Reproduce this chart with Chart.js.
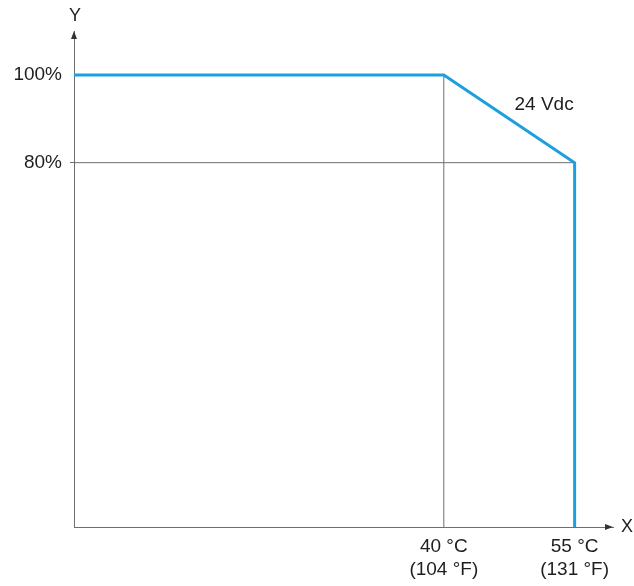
<!DOCTYPE html>
<html>
<head>
<meta charset="utf-8">
<script src="https://cdn.jsdelivr.net/npm/chart.js@4.4.0/dist/chart.umd.min.js"></script>
<style>
  html, body { margin: 0; padding: 0; background: #fff; }
  #wrap { width: 634px; height: 586px; }
</style>
</head>
<body>
<div id="wrap"><canvas id="derating"></canvas></div>
<script>
/* ===== DATA ===== */
const xTickValues = [40, 55];
const xTickLabels = [['40 °C', '(104 °F)'], ['55 °C', '(131 °F)']];
const yTickValues = [80, 100];
const yTickLabels = ['80%', '100%'];
const curveX = [40, 55];          // knee points of the 24 Vdc curve
const curveY = [100, 80];
const seriesLabel = '24 Vdc';

/* ===== SCALE LIMITS (schematic axes) ===== */
const X_MIN = -2.4, X_MAX = 59.4;
const Y_MIN = -3, Y_MAX = 110;

const blueLine = [
    { x: X_MIN, y: curveY[0] },
    { x: curveX[0], y: curveY[0] },
    { x: curveX[1], y: curveY[1] },
    { x: curveX[1], y: Y_MIN }
];
const refH = [{ x: X_MIN, y: curveY[1] }, { x: curveX[1], y: curveY[1] }];
const refV = [{ x: curveX[0], y: Y_MIN }, { x: curveX[0], y: curveY[0] }];

const FONT = '"Liberation Sans", Arial, sans-serif';
const AXIS = '#6e6e6e';
const TEXT = '#1e1e1e';

/* ===== AXIS ARROWS + LABELS ===== */
const decorations = {
    id: 'decorations',
    afterDraw(chart) {
        const ctx = chart.ctx;
        const a = chart.chartArea;
        const xs = chart.scales.x, ys = chart.scales.y;
        ctx.save();
        ctx.fillStyle = '#333';
        // arrow on Y axis
        ctx.beginPath();
        ctx.moveTo(a.left, a.top);
        ctx.lineTo(a.left - 3, a.top + 8);
        ctx.lineTo(a.left + 3, a.top + 8);
        ctx.closePath();
        ctx.fill();
        // arrow on X axis
        ctx.beginPath();
        ctx.moveTo(a.right, a.bottom);
        ctx.lineTo(a.right - 8, a.bottom - 3);
        ctx.lineTo(a.right - 8, a.bottom + 3);
        ctx.closePath();
        ctx.fill();

        ctx.fillStyle = TEXT;
        ctx.font = '18px ' + FONT;
        ctx.textAlign = 'center';
        ctx.textBaseline = 'middle';
        ctx.fillText('Y', a.left + 1, a.top - 15);
        ctx.fillText('X', a.right + 14, a.bottom);

        ctx.font = '19px ' + FONT;
        ctx.fillText(seriesLabel, xs.getPixelForValue(51.5), ys.getPixelForValue(93.2));
        ctx.restore();
    }
};

/* ===== CHART ===== */
document.addEventListener('DOMContentLoaded', function() {
    new Chart(document.getElementById('derating').getContext('2d'), {
        type: 'scatter',
        data: {
            datasets: [
                {
                    label: seriesLabel,
                    data: blueLine,
                    showLine: true,
                    borderColor: '#1d9fdf',
                    borderWidth: 3,
                    pointRadius: 0,
                    borderJoinStyle: 'miter',
                    clip: false,
                    order: 0
                },
                {
                    data: refH,
                    showLine: true,
                    borderColor: AXIS,
                    borderWidth: 1,
                    pointRadius: 0,
                    order: 1
                },
                {
                    data: refV,
                    showLine: true,
                    borderColor: AXIS,
                    borderWidth: 1,
                    pointRadius: 0,
                    order: 1
                }
            ]
        },
        options: {
            responsive: true,
            maintainAspectRatio: false,
            animation: false,
            layout: { padding: { left: 0, top: 31, right: 21, bottom: 0 } },
            plugins: {
                legend: { display: false },
                tooltip: { enabled: false }
            },
            scales: {
                x: {
                    type: 'linear',
                    min: X_MIN,
                    max: X_MAX,
                    afterFit(scale) { scale.height = 59; },
                    afterBuildTicks(scale) { scale.ticks = xTickValues.map(v => ({ value: v })); },
                    grid: { display: false },
                    border: { color: AXIS, width: 1 },
                    ticks: {
                        color: TEXT,
                        padding: 1,
                        maxRotation: 0,
                        font: { family: FONT, size: 19, lineHeight: 1.18 },
                        callback: v => xTickLabels[xTickValues.indexOf(v)]
                    }
                },
                y: {
                    type: 'linear',
                    min: Y_MIN,
                    max: Y_MAX,
                    afterFit(scale) { scale.width = 74; },
                    afterBuildTicks(scale) { scale.ticks = yTickValues.map(v => ({ value: v })); },
                    grid: {
                        drawOnChartArea: false,
                        drawTicks: true,
                        tickLength: 4,
                        color: ctx => (ctx.tick && ctx.tick.value === 80) ? AXIS : 'rgba(0,0,0,0)'
                    },
                    border: { color: AXIS, width: 1 },
                    ticks: {
                        color: TEXT,
                        padding: 8,
                        font: { family: FONT, size: 19 },
                        callback: v => yTickLabels[yTickValues.indexOf(v)]
                    }
                }
            }
        },
        plugins: [decorations]
    });
});
</script>
</body>
</html>
